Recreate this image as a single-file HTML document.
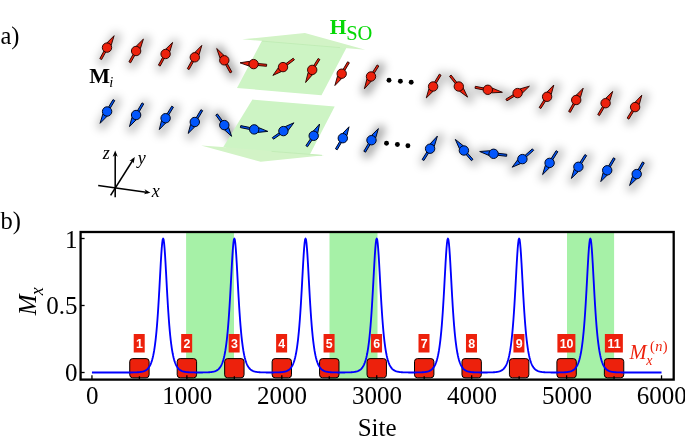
<!DOCTYPE html>
<html><head><meta charset="utf-8"><title>figure</title>
<style>html,body{margin:0;padding:0;background:#fff;}body{width:685px;height:437px;position:relative;overflow:hidden;font-family:"Liberation Serif",serif;}</style>
</head><body>
<svg width="685" height="437" viewBox="0 0 685 437" style="position:absolute;left:0;top:0;opacity:0.999">
<defs><filter id="sh" x="-50%" y="-50%" width="200%" height="200%"><feGaussianBlur stdDeviation="4"/></filter></defs>
<rect width="685" height="437" fill="#fff"/>
<g filter="url(#sh)" stroke="#000" stroke-opacity="0.23" stroke-width="10" stroke-linecap="round" transform="translate(2,1.5)">
<line x1="100.7" y1="59.1" x2="114.1" y2="35.7"/>
<line x1="129.8" y1="62.3" x2="143.4" y2="39.1"/>
<line x1="159.3" y1="65.6" x2="172.6" y2="42.4"/>
<line x1="188.2" y1="69.1" x2="201.8" y2="45.4"/>
<line x1="231" y1="72.4" x2="216.7" y2="48.5"/>
<line x1="231" y1="72.4" x2="216.7" y2="48.5" stroke-opacity="0.15"/>
<line x1="378" y1="65.5" x2="364.4" y2="88.8"/>
<line x1="378" y1="65.5" x2="364.4" y2="88.8" stroke-opacity="0.15"/>
<line x1="440.2" y1="74.7" x2="426.3" y2="97.9"/>
<line x1="450.3" y1="75.7" x2="467.6" y2="97.1"/>
<line x1="475.2" y1="87.3" x2="502.4" y2="92.3"/>
<line x1="506.4" y1="100" x2="529.4" y2="86.2"/>
<line x1="540" y1="108" x2="553.8" y2="85"/>
<line x1="569.5" y1="111.9" x2="583.2" y2="88.2"/>
<line x1="598.6" y1="115.1" x2="612.7" y2="91.4"/>
<line x1="628" y1="118.6" x2="641.8" y2="95.2"/>
<line x1="113.9" y1="100.1" x2="100.1" y2="123.3"/>
<line x1="142.9" y1="103.4" x2="129.5" y2="126.6"/>
<line x1="172.6" y1="106.7" x2="159.3" y2="129.6"/>
<line x1="201.8" y1="110.2" x2="188.2" y2="133.4"/>
<line x1="216.6" y1="114.5" x2="231.6" y2="136.3"/>
<line x1="216.6" y1="114.5" x2="231.6" y2="136.3" stroke-opacity="0.15"/>
<line x1="364.7" y1="151.7" x2="378.4" y2="128.6"/>
<line x1="364.7" y1="151.7" x2="378.4" y2="128.6" stroke-opacity="0.15"/>
<line x1="423" y1="160" x2="437.4" y2="136.1"/>
<line x1="472.2" y1="160" x2="455.3" y2="139.4"/>
<line x1="506.7" y1="155.3" x2="479.7" y2="151.5"/>
<line x1="533" y1="149.6" x2="512.2" y2="167.2"/>
<line x1="557" y1="151.2" x2="542.6" y2="174.6"/>
<line x1="585.8" y1="155.1" x2="571.4" y2="178.4"/>
<line x1="614.3" y1="158.3" x2="600.8" y2="181.6"/>
<line x1="643.4" y1="162.4" x2="629.6" y2="185.5"/>
</g>
<polygon points="262.6,39.5 346.6,47.5 321.5,95.3 237,87.9" fill="#cdf4c4"/>
<polygon points="242.1,39.3 304.9,33.1 365.3,49.7" fill="#d2f3c6"/>
<line x1="262" y1="41.1" x2="340" y2="47.6" stroke="#bceab0" stroke-width="0.7"/>
<polygon points="201.1,145.4 225.7,147.2 232,140 306,149 310,154.2 324.2,155.3 260.7,161.8" fill="#d2f3c6"/>
<polygon points="252.4,99.6 334.7,106.6 310,154.3 223.3,146.9" fill="#cdf4c4"/>
<line x1="271.6" y1="151.4" x2="322" y2="155.3" stroke="#bceab0" stroke-width="0.7"/>
<g fill="#ed210c" stroke="#2a0300" stroke-width="0.95" stroke-linejoin="round">
<polygon points="101.58,59.58 107.88,48.08 106.12,47.12 99.82,58.62"/><polygon points="111.21,45.22 114.1,35.7 107.09,42.76"/><circle cx="107" cy="47.6" r="4.7"/>
<polygon points="130.67,62.79 136.97,51.49 135.23,50.51 128.93,61.81"/><polygon points="140.34,48.67 143.4,39.1 136.25,46.16"/><circle cx="136.1" cy="51" r="4.7"/>
<polygon points="160.18,66.08 166.48,54.48 164.72,53.52 158.42,65.12"/><polygon points="169.82,51.64 172.6,42.4 165.72,49.16"/><circle cx="165.6" cy="54" r="4.7"/>
<polygon points="189.07,69.59 195.67,57.79 193.93,56.81 187.33,68.61"/><polygon points="199,54.9 201.8,45.4 194.86,52.46"/><circle cx="194.8" cy="57.3" r="4.7"/>
<polygon points="231.87,71.92 225.17,59.82 223.43,60.78 230.13,72.88"/><polygon points="224.04,55.47 216.7,48.5 220.01,58.07"/><circle cx="224.3" cy="60.3" r="4.7"/>
<polygon points="266.69,64.3 253.69,63.1 253.51,65.1 266.51,66.3"/><polygon points="249.65,61.31 240,62.8 249.19,66.09"/><circle cx="253.6" cy="64.1" r="4.7"/>
<polygon points="293.2,58.2 282.4,66.3 283.6,67.9 294.4,59.8"/><polygon points="278.23,67.91 272.9,75.4 281.28,71.62"/><circle cx="283" cy="67.1" r="4.7"/>
<polygon points="318.15,58.47 311.35,69.37 313.05,70.43 319.85,59.53"/><polygon points="308.13,72.51 305.6,82.5 312.38,74.73"/><circle cx="312.2" cy="69.9" r="4.7"/>
<polygon points="347.64,61.79 340.84,73.19 342.56,74.21 349.36,62.81"/><polygon points="337.52,76.14 334.9,85.5 341.68,78.54"/><circle cx="341.7" cy="73.7" r="4.7"/>
<polygon points="377.16,64.96 370.16,75.96 371.84,77.04 378.84,66.04"/><polygon points="366.9,79.07 364.4,88.8 371.13,81.34"/><circle cx="371" cy="76.5" r="4.7"/>
<polygon points="439.34,74.18 432.24,85.98 433.96,87.02 441.06,75.22"/><polygon points="428.89,88.88 426.3,97.9 433.01,91.34"/><circle cx="433.1" cy="86.5" r="4.7"/>
<polygon points="449.51,76.32 458.01,87.12 459.59,85.88 451.09,75.08"/><polygon points="459.64,91.26 467.6,97.1 463.33,88.2"/><circle cx="458.8" cy="86.5" r="4.7"/>
<polygon points="475.01,88.28 487.61,90.78 487.99,88.82 475.39,86.32"/><polygon points="491.53,92.87 502.4,92.3 492.34,88.14"/><circle cx="487.8" cy="89.8" r="4.7"/>
<polygon points="506.92,100.85 518.12,93.95 517.08,92.25 505.88,99.15"/><polygon points="522.44,93.05 529.4,86.2 520.01,88.91"/><circle cx="517.6" cy="93.1" r="4.7"/>
<polygon points="540.84,108.54 547.94,97.34 546.26,96.26 539.16,107.46"/><polygon points="551.26,94.33 553.8,85 547.09,91.96"/><circle cx="547.1" cy="96.8" r="4.7"/>
<polygon points="570.37,112.39 577.07,100.49 575.33,99.51 568.63,111.41"/><polygon points="580.41,97.61 583.2,88.2 576.28,95.16"/><circle cx="576.2" cy="100" r="4.7"/>
<polygon points="599.46,115.61 606.46,103.71 604.74,102.69 597.74,114.59"/><polygon points="609.82,100.84 612.7,91.4 605.71,98.36"/><circle cx="605.6" cy="103.2" r="4.7"/>
<polygon points="628.85,119.13 635.95,107.63 634.25,106.57 627.15,118.07"/><polygon points="639.25,104.62 641.8,95.2 635.07,102.26"/><circle cx="635.1" cy="107.1" r="4.7"/>
</g>
<g fill="#0256fc" stroke="#000820" stroke-width="1" stroke-linejoin="round">
<polygon points="113.04,99.59 106.24,110.99 107.96,112.01 114.76,100.61"/><polygon points="102.89,113.89 100.1,123.3 107.02,116.34"/><circle cx="107.1" cy="111.5" r="4.7"/>
<polygon points="142.04,102.89 135.24,114.49 136.96,115.51 143.76,103.91"/><polygon points="131.94,117.46 129.5,126.6 136.11,119.84"/><circle cx="136.1" cy="115" r="4.7"/>
<polygon points="171.75,106.18 164.75,117.68 166.45,118.72 173.45,107.22"/><polygon points="161.47,120.72 159.3,129.6 165.67,123.04"/><circle cx="165.6" cy="118.2" r="4.7"/>
<polygon points="200.94,109.69 193.94,121.49 195.66,122.51 202.66,110.71"/><polygon points="190.62,124.43 188.2,133.4 194.77,126.84"/><circle cx="194.8" cy="122" r="4.7"/>
<polygon points="215.79,115.09 223.49,125.69 225.11,124.51 217.41,113.91"/><polygon points="224.58,129.93 231.6,136.3 228.6,127.31"/><circle cx="224.3" cy="125.1" r="4.7"/>
<polygon points="240.4,127.58 254,130.38 254.4,128.42 240.8,125.62"/><polygon points="258.01,132.39 267.8,131.4 258.7,127.64"/><circle cx="254.2" cy="129.4" r="4.7"/>
<polygon points="273.47,139.22 283.97,131.92 282.83,130.28 272.33,137.58"/><polygon points="288.18,130.38 293.9,122.8 285.21,126.61"/><circle cx="283.4" cy="131.1" r="4.7"/>
<polygon points="307.53,146.76 314.53,136.36 312.87,135.24 305.87,145.64"/><polygon points="317.72,133.12 319.6,124 313.43,130.97"/><circle cx="313.7" cy="135.8" r="4.7"/>
<polygon points="337.16,149.81 343.66,138.71 341.94,137.69 335.44,148.79"/><polygon points="346.92,135.66 349,126.8 342.7,133.36"/><circle cx="342.8" cy="138.2" r="4.7"/>
<polygon points="365.56,152.21 372.36,140.71 370.64,139.69 363.84,151.19"/><polygon points="375.71,137.82 378.4,128.6 371.58,135.36"/><circle cx="371.5" cy="140.2" r="4.7"/>
<polygon points="423.85,160.53 430.95,149.23 429.25,148.17 422.15,159.47"/><polygon points="434.28,146.27 437.4,136.1 430.13,143.86"/><circle cx="430.1" cy="148.7" r="4.7"/>
<polygon points="472.95,159.34 464.65,149.84 463.15,151.16 471.45,160.66"/><polygon points="463.22,145.71 455.3,139.4 459.43,148.65"/><circle cx="463.9" cy="150.5" r="4.7"/>
<polygon points="506.81,154.31 493.71,152.81 493.49,154.79 506.59,156.29"/><polygon points="489.85,150.75 479.7,151.5 489.06,155.48"/><circle cx="493.6" cy="153.8" r="4.7"/>
<polygon points="532.33,148.86 521.73,158.36 523.07,159.84 533.67,150.34"/><polygon points="517.62,159.83 512.2,167.2 520.6,163.59"/><circle cx="522.4" cy="159.1" r="4.7"/>
<polygon points="556.15,150.67 548.75,162.37 550.45,163.43 557.85,151.73"/><polygon points="545.38,165.27 542.6,174.6 549.5,167.74"/><circle cx="549.6" cy="162.9" r="4.7"/>
<polygon points="584.95,154.57 577.55,166.27 579.25,167.33 586.65,155.63"/><polygon points="574.18,169.16 571.4,178.4 578.28,171.64"/><circle cx="578.4" cy="166.8" r="4.7"/>
<polygon points="613.44,157.79 606.34,169.79 608.06,170.81 615.16,158.81"/><polygon points="603.04,172.77 600.8,181.6 607.22,175.14"/><circle cx="607.2" cy="170.3" r="4.7"/>
<polygon points="642.53,161.9 635.83,173.6 637.57,174.6 644.27,162.9"/><polygon points="632.44,176.4 629.6,185.5 636.52,178.93"/><circle cx="636.7" cy="174.1" r="4.7"/>
</g>
<circle cx="389" cy="80.2" r="2.45" fill="#000"/>
<circle cx="400.4" cy="81.2" r="2.45" fill="#000"/>
<circle cx="411.2" cy="82.2" r="2.45" fill="#000"/>
<circle cx="386.5" cy="143.2" r="2.45" fill="#000"/>
<circle cx="397.4" cy="144.5" r="2.45" fill="#000"/>
<circle cx="407.9" cy="145.7" r="2.45" fill="#000"/>
<g stroke="#000" stroke-width="1.55" fill="none">
<line x1="115.2" y1="197.3" x2="115.2" y2="153"/>
<line x1="110.6" y1="195.4" x2="133.6" y2="159"/>
<line x1="98.2" y1="185.4" x2="148" y2="192.4"/>
</g>
<polygon points="115.2,150.6 117.7,156.8 115.2,155.06 112.7,156.8" fill="#000"/>
<polygon points="134.8,157 133.61,163.58 132.42,160.78 129.38,160.91" fill="#000"/>
<polygon points="150.4,192.7 143.91,194.32 145.98,192.08 144.61,189.37" fill="#000"/>
<rect x="186.1" y="232" width="47.9" height="147.5" fill="#a6f1a7"/>
<rect x="329.5" y="232" width="48" height="147.5" fill="#a6f1a7"/>
<rect x="567" y="232" width="47.1" height="147.5" fill="#a6f1a7"/>
<rect x="129.72" y="358.6" width="19.4" height="19.2" rx="3" ry="3" fill="#ed210c" stroke="#000" stroke-width="1"/>
<rect x="177.18" y="358.6" width="19.4" height="19.2" rx="3" ry="3" fill="#ed210c" stroke="#000" stroke-width="1"/>
<rect x="224.65" y="358.6" width="19.4" height="19.2" rx="3" ry="3" fill="#ed210c" stroke="#000" stroke-width="1"/>
<rect x="272.11" y="358.6" width="19.4" height="19.2" rx="3" ry="3" fill="#ed210c" stroke="#000" stroke-width="1"/>
<rect x="319.57" y="358.6" width="19.4" height="19.2" rx="3" ry="3" fill="#ed210c" stroke="#000" stroke-width="1"/>
<rect x="367.04" y="358.6" width="19.4" height="19.2" rx="3" ry="3" fill="#ed210c" stroke="#000" stroke-width="1"/>
<rect x="414.5" y="358.6" width="19.4" height="19.2" rx="3" ry="3" fill="#ed210c" stroke="#000" stroke-width="1"/>
<rect x="461.97" y="358.6" width="19.4" height="19.2" rx="3" ry="3" fill="#ed210c" stroke="#000" stroke-width="1"/>
<rect x="509.44" y="358.6" width="19.4" height="19.2" rx="3" ry="3" fill="#ed210c" stroke="#000" stroke-width="1"/>
<rect x="556.9" y="358.6" width="19.4" height="19.2" rx="3" ry="3" fill="#ed210c" stroke="#000" stroke-width="1"/>
<rect x="604.37" y="358.6" width="19.4" height="19.2" rx="3" ry="3" fill="#ed210c" stroke="#000" stroke-width="1"/>
<path d="M91.95 372.5 L92.42 372.5 L92.9 372.5 L93.37 372.5 L93.85 372.5 L94.32 372.5 L94.8 372.5 L95.27 372.5 L95.75 372.5 L96.22 372.5 L96.7 372.5 L97.17 372.5 L97.65 372.5 L98.12 372.5 L98.6 372.5 L99.07 372.5 L99.54 372.5 L100.02 372.5 L100.49 372.5 L100.97 372.5 L101.44 372.5 L101.92 372.5 L102.39 372.5 L102.87 372.5 L103.34 372.5 L103.82 372.5 L104.29 372.5 L104.77 372.5 L105.24 372.5 L105.71 372.5 L106.19 372.5 L106.66 372.5 L107.14 372.5 L107.61 372.5 L108.09 372.5 L108.56 372.5 L109.04 372.5 L109.51 372.5 L109.99 372.5 L110.46 372.5 L110.94 372.5 L111.41 372.5 L111.89 372.5 L112.36 372.5 L112.83 372.5 L113.31 372.5 L113.78 372.5 L114.26 372.5 L114.73 372.5 L115.21 372.5 L115.68 372.5 L116.16 372.5 L116.63 372.5 L117.11 372.5 L117.58 372.5 L118.06 372.5 L118.53 372.5 L119.01 372.5 L119.48 372.5 L119.95 372.5 L120.43 372.5 L120.9 372.5 L121.38 372.5 L121.85 372.5 L122.33 372.5 L122.8 372.5 L123.28 372.5 L123.75 372.5 L124.23 372.49 L124.7 372.49 L125.18 372.49 L125.65 372.49 L126.12 372.49 L126.6 372.49 L127.07 372.49 L127.55 372.49 L128.02 372.48 L128.5 372.48 L128.97 372.48 L129.45 372.48 L129.92 372.47 L130.4 372.47 L130.87 372.47 L131.35 372.46 L131.82 372.45 L132.3 372.45 L132.77 372.44 L133.24 372.43 L133.72 372.42 L134.19 372.41 L134.67 372.4 L135.14 372.39 L135.62 372.37 L136.09 372.35 L136.57 372.33 L137.04 372.31 L137.52 372.28 L137.99 372.25 L138.47 372.21 L138.94 372.17 L139.42 372.13 L139.89 372.08 L140.36 372.02 L140.84 371.95 L141.31 371.87 L141.79 371.78 L142.26 371.68 L142.74 371.56 L143.21 371.43 L143.69 371.28 L144.16 371.11 L144.64 370.92 L145.11 370.69 L145.59 370.44 L146.06 370.15 L146.53 369.82 L147.01 369.44 L147.48 369.01 L147.96 368.52 L148.43 367.97 L148.91 367.33 L149.38 366.6 L149.86 365.77 L150.33 364.83 L150.81 363.75 L151.28 362.52 L151.76 361.13 L152.23 359.53 L152.71 357.72 L153.18 355.66 L153.65 353.31 L154.13 350.65 L154.6 347.63 L155.08 344.2 L155.55 340.33 L156.03 335.97 L156.5 331.07 L156.98 325.59 L157.45 319.49 L157.93 312.77 L158.4 305.43 L158.88 297.52 L159.35 289.12 L159.82 280.4 L160.3 271.61 L160.77 263.05 L161.25 255.13 L161.72 248.3 L162.2 243.01 L162.67 239.65 L163.15 238.5 L163.62 239.65 L164.1 243.01 L164.57 248.3 L165.05 255.13 L165.52 263.05 L166 271.61 L166.47 280.4 L166.94 289.12 L167.42 297.52 L167.89 305.43 L168.37 312.77 L168.84 319.49 L169.32 325.59 L169.79 331.07 L170.27 335.97 L170.74 340.33 L171.22 344.2 L171.69 347.63 L172.17 350.65 L172.64 353.31 L173.12 355.66 L173.59 357.72 L174.06 359.53 L174.54 361.13 L175.01 362.52 L175.49 363.75 L175.96 364.83 L176.44 365.77 L176.91 366.6 L177.39 367.33 L177.86 367.97 L178.34 368.52 L178.81 369.01 L179.29 369.44 L179.76 369.82 L180.23 370.15 L180.71 370.44 L181.18 370.69 L181.66 370.92 L182.13 371.11 L182.61 371.28 L183.08 371.43 L183.56 371.56 L184.03 371.68 L184.51 371.78 L184.98 371.87 L185.46 371.95 L185.93 372.02 L186.41 372.07 L186.88 372.13 L187.35 372.17 L187.83 372.21 L188.3 372.25 L188.78 372.28 L189.25 372.31 L189.73 372.33 L190.2 372.35 L190.68 372.37 L191.15 372.38 L191.63 372.4 L192.1 372.41 L192.58 372.42 L193.05 372.43 L193.53 372.44 L194 372.44 L194.47 372.45 L194.95 372.46 L195.42 372.46 L195.9 372.46 L196.37 372.47 L196.85 372.47 L197.32 372.47 L197.8 372.47 L198.27 372.47 L198.75 372.47 L199.22 372.47 L199.7 372.47 L200.17 372.47 L200.64 372.47 L201.12 372.47 L201.59 372.46 L202.07 372.46 L202.54 372.46 L203.02 372.45 L203.49 372.44 L203.97 372.44 L204.44 372.43 L204.92 372.42 L205.39 372.41 L205.87 372.4 L206.34 372.38 L206.82 372.37 L207.29 372.35 L207.76 372.33 L208.24 372.31 L208.71 372.28 L209.19 372.25 L209.66 372.21 L210.14 372.17 L210.61 372.13 L211.09 372.07 L211.56 372.02 L212.04 371.95 L212.51 371.87 L212.99 371.78 L213.46 371.68 L213.94 371.56 L214.41 371.43 L214.88 371.28 L215.36 371.11 L215.83 370.92 L216.31 370.69 L216.78 370.44 L217.26 370.15 L217.73 369.82 L218.21 369.44 L218.68 369.01 L219.16 368.52 L219.63 367.97 L220.11 367.33 L220.58 366.6 L221.05 365.77 L221.53 364.83 L222 363.75 L222.48 362.52 L222.95 361.13 L223.43 359.53 L223.9 357.72 L224.38 355.66 L224.85 353.31 L225.33 350.65 L225.8 347.63 L226.28 344.2 L226.75 340.33 L227.23 335.97 L227.7 331.07 L228.17 325.59 L228.65 319.49 L229.12 312.77 L229.6 305.43 L230.07 297.52 L230.55 289.12 L231.02 280.4 L231.5 271.61 L231.97 263.05 L232.45 255.13 L232.92 248.3 L233.4 243.01 L233.87 239.65 L234.35 238.5 L234.82 239.65 L235.29 243.01 L235.77 248.3 L236.24 255.13 L236.72 263.05 L237.19 271.61 L237.67 280.4 L238.14 289.12 L238.62 297.52 L239.09 305.43 L239.57 312.77 L240.04 319.49 L240.52 325.59 L240.99 331.07 L241.46 335.97 L241.94 340.33 L242.41 344.2 L242.89 347.63 L243.36 350.65 L243.84 353.31 L244.31 355.66 L244.79 357.72 L245.26 359.53 L245.74 361.13 L246.21 362.52 L246.69 363.75 L247.16 364.83 L247.64 365.77 L248.11 366.6 L248.58 367.33 L249.06 367.97 L249.53 368.52 L250.01 369.01 L250.48 369.44 L250.96 369.82 L251.43 370.15 L251.91 370.44 L252.38 370.69 L252.86 370.92 L253.33 371.11 L253.81 371.28 L254.28 371.43 L254.75 371.56 L255.23 371.68 L255.7 371.78 L256.18 371.87 L256.65 371.95 L257.13 372.02 L257.6 372.07 L258.08 372.13 L258.55 372.17 L259.03 372.21 L259.5 372.25 L259.98 372.28 L260.45 372.31 L260.93 372.33 L261.4 372.35 L261.87 372.37 L262.35 372.38 L262.82 372.4 L263.3 372.41 L263.77 372.42 L264.25 372.43 L264.72 372.44 L265.2 372.44 L265.67 372.45 L266.15 372.46 L266.62 372.46 L267.1 372.46 L267.57 372.47 L268.05 372.47 L268.52 372.47 L268.99 372.47 L269.47 372.47 L269.94 372.47 L270.42 372.47 L270.89 372.47 L271.37 372.47 L271.84 372.47 L272.32 372.47 L272.79 372.46 L273.27 372.46 L273.74 372.46 L274.22 372.45 L274.69 372.44 L275.16 372.44 L275.64 372.43 L276.11 372.42 L276.59 372.41 L277.06 372.4 L277.54 372.38 L278.01 372.37 L278.49 372.35 L278.96 372.33 L279.44 372.31 L279.91 372.28 L280.39 372.25 L280.86 372.21 L281.34 372.17 L281.81 372.13 L282.28 372.07 L282.76 372.02 L283.23 371.95 L283.71 371.87 L284.18 371.78 L284.66 371.68 L285.13 371.56 L285.61 371.43 L286.08 371.28 L286.56 371.11 L287.03 370.92 L287.51 370.69 L287.98 370.44 L288.46 370.15 L288.93 369.82 L289.4 369.44 L289.88 369.01 L290.35 368.52 L290.83 367.97 L291.3 367.33 L291.78 366.6 L292.25 365.77 L292.73 364.83 L293.2 363.75 L293.68 362.52 L294.15 361.13 L294.63 359.53 L295.1 357.72 L295.57 355.66 L296.05 353.31 L296.52 350.65 L297 347.63 L297.47 344.2 L297.95 340.33 L298.42 335.97 L298.9 331.07 L299.37 325.59 L299.85 319.49 L300.32 312.77 L300.8 305.43 L301.27 297.52 L301.75 289.12 L302.22 280.4 L302.69 271.61 L303.17 263.05 L303.64 255.13 L304.12 248.3 L304.59 243.01 L305.07 239.65 L305.54 238.5 L306.02 239.65 L306.49 243.01 L306.97 248.3 L307.44 255.13 L307.92 263.05 L308.39 271.61 L308.87 280.4 L309.34 289.12 L309.81 297.52 L310.29 305.43 L310.76 312.77 L311.24 319.49 L311.71 325.59 L312.19 331.07 L312.66 335.97 L313.14 340.33 L313.61 344.2 L314.09 347.63 L314.56 350.65 L315.04 353.31 L315.51 355.66 L315.98 357.72 L316.46 359.53 L316.93 361.13 L317.41 362.52 L317.88 363.75 L318.36 364.83 L318.83 365.77 L319.31 366.6 L319.78 367.33 L320.26 367.97 L320.73 368.52 L321.21 369.01 L321.68 369.44 L322.16 369.82 L322.63 370.15 L323.1 370.44 L323.58 370.69 L324.05 370.92 L324.53 371.11 L325 371.28 L325.48 371.43 L325.95 371.56 L326.43 371.68 L326.9 371.78 L327.38 371.87 L327.85 371.95 L328.33 372.02 L328.8 372.07 L329.27 372.13 L329.75 372.17 L330.22 372.21 L330.7 372.25 L331.17 372.28 L331.65 372.31 L332.12 372.33 L332.6 372.35 L333.07 372.37 L333.55 372.38 L334.02 372.4 L334.5 372.41 L334.97 372.42 L335.45 372.43 L335.92 372.44 L336.39 372.44 L336.87 372.45 L337.34 372.46 L337.82 372.46 L338.29 372.46 L338.77 372.47 L339.24 372.47 L339.72 372.47 L340.19 372.47 L340.67 372.47 L341.14 372.47 L341.62 372.47 L342.09 372.47 L342.57 372.47 L343.04 372.47 L343.51 372.47 L343.99 372.46 L344.46 372.46 L344.94 372.46 L345.41 372.45 L345.89 372.44 L346.36 372.44 L346.84 372.43 L347.31 372.42 L347.79 372.41 L348.26 372.4 L348.74 372.38 L349.21 372.37 L349.68 372.35 L350.16 372.33 L350.63 372.31 L351.11 372.28 L351.58 372.25 L352.06 372.21 L352.53 372.17 L353.01 372.13 L353.48 372.07 L353.96 372.02 L354.43 371.95 L354.91 371.87 L355.38 371.78 L355.86 371.68 L356.33 371.56 L356.8 371.43 L357.28 371.28 L357.75 371.11 L358.23 370.92 L358.7 370.69 L359.18 370.44 L359.65 370.15 L360.13 369.82 L360.6 369.44 L361.08 369.01 L361.55 368.52 L362.03 367.97 L362.5 367.33 L362.98 366.6 L363.45 365.77 L363.92 364.83 L364.4 363.75 L364.87 362.52 L365.35 361.13 L365.82 359.53 L366.3 357.72 L366.77 355.66 L367.25 353.31 L367.72 350.65 L368.2 347.63 L368.67 344.2 L369.15 340.33 L369.62 335.97 L370.09 331.07 L370.57 325.59 L371.04 319.49 L371.52 312.77 L371.99 305.43 L372.47 297.52 L372.94 289.12 L373.42 280.4 L373.89 271.61 L374.37 263.05 L374.84 255.13 L375.32 248.3 L375.79 243.01 L376.27 239.65 L376.74 238.5 L377.21 239.65 L377.69 243.01 L378.16 248.3 L378.64 255.13 L379.11 263.05 L379.59 271.61 L380.06 280.4 L380.54 289.12 L381.01 297.52 L381.49 305.43 L381.96 312.77 L382.44 319.49 L382.91 325.59 L383.39 331.07 L383.86 335.97 L384.33 340.33 L384.81 344.2 L385.28 347.63 L385.76 350.65 L386.23 353.31 L386.71 355.66 L387.18 357.72 L387.66 359.53 L388.13 361.13 L388.61 362.52 L389.08 363.75 L389.56 364.83 L390.03 365.77 L390.5 366.6 L390.98 367.33 L391.45 367.97 L391.93 368.52 L392.4 369.01 L392.88 369.44 L393.35 369.82 L393.83 370.15 L394.3 370.44 L394.78 370.69 L395.25 370.92 L395.73 371.11 L396.2 371.28 L396.68 371.43 L397.15 371.56 L397.62 371.68 L398.1 371.78 L398.57 371.87 L399.05 371.95 L399.52 372.02 L400 372.07 L400.47 372.13 L400.95 372.17 L401.42 372.21 L401.9 372.25 L402.37 372.28 L402.85 372.31 L403.32 372.33 L403.8 372.35 L404.27 372.37 L404.74 372.38 L405.22 372.4 L405.69 372.41 L406.17 372.42 L406.64 372.43 L407.12 372.44 L407.59 372.44 L408.07 372.45 L408.54 372.46 L409.02 372.46 L409.49 372.46 L409.97 372.47 L410.44 372.47 L410.91 372.47 L411.39 372.47 L411.86 372.47 L412.34 372.47 L412.81 372.47 L413.29 372.47 L413.76 372.47 L414.24 372.47 L414.71 372.47 L415.19 372.46 L415.66 372.46 L416.14 372.46 L416.61 372.45 L417.09 372.44 L417.56 372.44 L418.03 372.43 L418.51 372.42 L418.98 372.41 L419.46 372.4 L419.93 372.38 L420.41 372.37 L420.88 372.35 L421.36 372.33 L421.83 372.31 L422.31 372.28 L422.78 372.25 L423.26 372.21 L423.73 372.17 L424.2 372.13 L424.68 372.07 L425.15 372.02 L425.63 371.95 L426.1 371.87 L426.58 371.78 L427.05 371.68 L427.53 371.56 L428 371.43 L428.48 371.28 L428.95 371.11 L429.43 370.92 L429.9 370.69 L430.38 370.44 L430.85 370.15 L431.32 369.82 L431.8 369.44 L432.27 369.01 L432.75 368.52 L433.22 367.97 L433.7 367.33 L434.17 366.6 L434.65 365.77 L435.12 364.83 L435.6 363.75 L436.07 362.52 L436.55 361.13 L437.02 359.53 L437.5 357.72 L437.97 355.66 L438.44 353.31 L438.92 350.65 L439.39 347.63 L439.87 344.2 L440.34 340.33 L440.82 335.97 L441.29 331.07 L441.77 325.59 L442.24 319.49 L442.72 312.77 L443.19 305.43 L443.67 297.52 L444.14 289.12 L444.61 280.4 L445.09 271.61 L445.56 263.05 L446.04 255.13 L446.51 248.3 L446.99 243.01 L447.46 239.65 L447.94 238.5 L448.41 239.65 L448.89 243.01 L449.36 248.3 L449.84 255.13 L450.31 263.05 L450.79 271.61 L451.26 280.4 L451.73 289.12 L452.21 297.52 L452.68 305.43 L453.16 312.77 L453.63 319.49 L454.11 325.59 L454.58 331.07 L455.06 335.97 L455.53 340.33 L456.01 344.2 L456.48 347.63 L456.96 350.65 L457.43 353.31 L457.91 355.66 L458.38 357.72 L458.85 359.53 L459.33 361.13 L459.8 362.52 L460.28 363.75 L460.75 364.83 L461.23 365.77 L461.7 366.6 L462.18 367.33 L462.65 367.97 L463.13 368.52 L463.6 369.01 L464.08 369.44 L464.55 369.82 L465.02 370.15 L465.5 370.44 L465.97 370.69 L466.45 370.92 L466.92 371.11 L467.4 371.28 L467.87 371.43 L468.35 371.56 L468.82 371.68 L469.3 371.78 L469.77 371.87 L470.25 371.95 L470.72 372.02 L471.2 372.07 L471.67 372.13 L472.14 372.17 L472.62 372.21 L473.09 372.25 L473.57 372.28 L474.04 372.31 L474.52 372.33 L474.99 372.35 L475.47 372.37 L475.94 372.38 L476.42 372.4 L476.89 372.41 L477.37 372.42 L477.84 372.43 L478.32 372.44 L478.79 372.44 L479.26 372.45 L479.74 372.46 L480.21 372.46 L480.69 372.46 L481.16 372.47 L481.64 372.47 L482.11 372.47 L482.59 372.47 L483.06 372.47 L483.54 372.47 L484.01 372.47 L484.49 372.47 L484.96 372.47 L485.43 372.47 L485.91 372.47 L486.38 372.46 L486.86 372.46 L487.33 372.46 L487.81 372.45 L488.28 372.44 L488.76 372.44 L489.23 372.43 L489.71 372.42 L490.18 372.41 L490.66 372.4 L491.13 372.38 L491.61 372.37 L492.08 372.35 L492.55 372.33 L493.03 372.31 L493.5 372.28 L493.98 372.25 L494.45 372.21 L494.93 372.17 L495.4 372.13 L495.88 372.07 L496.35 372.02 L496.83 371.95 L497.3 371.87 L497.78 371.78 L498.25 371.68 L498.73 371.56 L499.2 371.43 L499.67 371.28 L500.15 371.11 L500.62 370.92 L501.1 370.69 L501.57 370.44 L502.05 370.15 L502.52 369.82 L503 369.44 L503.47 369.01 L503.95 368.52 L504.42 367.97 L504.9 367.33 L505.37 366.6 L505.84 365.77 L506.32 364.83 L506.79 363.75 L507.27 362.52 L507.74 361.13 L508.22 359.53 L508.69 357.72 L509.17 355.66 L509.64 353.31 L510.12 350.65 L510.59 347.63 L511.07 344.2 L511.54 340.33 L512.02 335.97 L512.49 331.07 L512.96 325.59 L513.44 319.49 L513.91 312.77 L514.39 305.43 L514.86 297.52 L515.34 289.12 L515.81 280.4 L516.29 271.61 L516.76 263.05 L517.24 255.13 L517.71 248.3 L518.19 243.01 L518.66 239.65 L519.13 238.5 L519.61 239.65 L520.08 243.01 L520.56 248.3 L521.03 255.13 L521.51 263.05 L521.98 271.61 L522.46 280.4 L522.93 289.12 L523.41 297.52 L523.88 305.43 L524.36 312.77 L524.83 319.49 L525.31 325.59 L525.78 331.07 L526.25 335.97 L526.73 340.33 L527.2 344.2 L527.68 347.63 L528.15 350.65 L528.63 353.31 L529.1 355.66 L529.58 357.72 L530.05 359.53 L530.53 361.13 L531 362.52 L531.48 363.75 L531.95 364.83 L532.43 365.77 L532.9 366.6 L533.37 367.33 L533.85 367.97 L534.32 368.52 L534.8 369.01 L535.27 369.44 L535.75 369.82 L536.22 370.15 L536.7 370.44 L537.17 370.69 L537.65 370.92 L538.12 371.11 L538.6 371.28 L539.07 371.43 L539.54 371.56 L540.02 371.68 L540.49 371.78 L540.97 371.87 L541.44 371.95 L541.92 372.02 L542.39 372.07 L542.87 372.13 L543.34 372.17 L543.82 372.21 L544.29 372.25 L544.77 372.28 L545.24 372.31 L545.72 372.33 L546.19 372.35 L546.66 372.37 L547.14 372.38 L547.61 372.4 L548.09 372.41 L548.56 372.42 L549.04 372.43 L549.51 372.44 L549.99 372.44 L550.46 372.45 L550.94 372.46 L551.41 372.46 L551.89 372.46 L552.36 372.47 L552.84 372.47 L553.31 372.47 L553.78 372.47 L554.26 372.47 L554.73 372.47 L555.21 372.47 L555.68 372.47 L556.16 372.47 L556.63 372.47 L557.11 372.47 L557.58 372.46 L558.06 372.46 L558.53 372.46 L559.01 372.45 L559.48 372.44 L559.95 372.44 L560.43 372.43 L560.9 372.42 L561.38 372.41 L561.85 372.4 L562.33 372.38 L562.8 372.37 L563.28 372.35 L563.75 372.33 L564.23 372.31 L564.7 372.28 L565.18 372.25 L565.65 372.21 L566.13 372.17 L566.6 372.13 L567.07 372.07 L567.55 372.02 L568.02 371.95 L568.5 371.87 L568.97 371.78 L569.45 371.68 L569.92 371.56 L570.4 371.43 L570.87 371.28 L571.35 371.11 L571.82 370.92 L572.3 370.69 L572.77 370.44 L573.25 370.15 L573.72 369.82 L574.19 369.44 L574.67 369.01 L575.14 368.52 L575.62 367.97 L576.09 367.33 L576.57 366.6 L577.04 365.77 L577.52 364.83 L577.99 363.75 L578.47 362.52 L578.94 361.13 L579.42 359.53 L579.89 357.72 L580.36 355.66 L580.84 353.31 L581.31 350.65 L581.79 347.63 L582.26 344.2 L582.74 340.33 L583.21 335.97 L583.69 331.07 L584.16 325.59 L584.64 319.49 L585.11 312.77 L585.59 305.43 L586.06 297.52 L586.54 289.12 L587.01 280.4 L587.48 271.61 L587.96 263.05 L588.43 255.13 L588.91 248.3 L589.38 243.01 L589.86 239.65 L590.33 238.5 L590.81 239.65 L591.28 243.01 L591.76 248.3 L592.23 255.13 L592.71 263.05 L593.18 271.61 L593.66 280.4 L594.13 289.12 L594.6 297.52 L595.08 305.43 L595.55 312.77 L596.03 319.49 L596.5 325.59 L596.98 331.07 L597.45 335.97 L597.93 340.33 L598.4 344.2 L598.88 347.63 L599.35 350.65 L599.83 353.31 L600.3 355.66 L600.77 357.72 L601.25 359.53 L601.72 361.13 L602.2 362.52 L602.67 363.75 L603.15 364.83 L603.62 365.77 L604.1 366.6 L604.57 367.33 L605.05 367.97 L605.52 368.52 L606 369.01 L606.47 369.44 L606.95 369.82 L607.42 370.15 L607.89 370.44 L608.37 370.69 L608.84 370.92 L609.32 371.11 L609.79 371.28 L610.27 371.43 L610.74 371.56 L611.22 371.68 L611.69 371.78 L612.17 371.87 L612.64 371.95 L613.12 372.02 L613.59 372.08 L614.07 372.13 L614.54 372.17 L615.01 372.21 L615.49 372.25 L615.96 372.28 L616.44 372.31 L616.91 372.33 L617.39 372.35 L617.86 372.37 L618.34 372.39 L618.81 372.4 L619.29 372.41 L619.76 372.42 L620.24 372.43 L620.71 372.44 L621.18 372.45 L621.66 372.45 L622.13 372.46 L622.61 372.47 L623.08 372.47 L623.56 372.47 L624.03 372.48 L624.51 372.48 L624.98 372.48 L625.46 372.48 L625.93 372.49 L626.41 372.49 L626.88 372.49 L627.36 372.49 L627.83 372.49 L628.3 372.49 L628.78 372.49 L629.25 372.49 L629.73 372.5 L630.2 372.5 L630.68 372.5 L631.15 372.5 L631.63 372.5 L632.1 372.5 L632.58 372.5 L633.05 372.5 L633.53 372.5 L634 372.5 L634.47 372.5 L634.95 372.5 L635.42 372.5 L635.9 372.5 L636.37 372.5 L636.85 372.5 L637.32 372.5 L637.8 372.5 L638.27 372.5 L638.75 372.5 L639.22 372.5 L639.7 372.5 L640.17 372.5 L640.65 372.5 L641.12 372.5 L641.59 372.5 L642.07 372.5 L642.54 372.5 L643.02 372.5 L643.49 372.5 L643.97 372.5 L644.44 372.5 L644.92 372.5 L645.39 372.5 L645.87 372.5 L646.34 372.5 L646.82 372.5 L647.29 372.5 L647.77 372.5 L648.24 372.5 L648.71 372.5 L649.19 372.5 L649.66 372.5 L650.14 372.5 L650.61 372.5 L651.09 372.5 L651.56 372.5 L652.04 372.5 L652.51 372.5 L652.99 372.5 L653.46 372.5 L653.94 372.5 L654.41 372.5 L654.88 372.5 L655.36 372.5 L655.83 372.5 L656.31 372.5 L656.78 372.5 L657.26 372.5 L657.73 372.5 L658.21 372.5 L658.68 372.5 L659.16 372.5 L659.63 372.5 L660.11 372.5 L660.58 372.5 L661.06 372.5 L661.53 372.5" fill="none" stroke="#0000ff" stroke-width="1.85" stroke-linejoin="round"/>
<rect x="133.72" y="334" width="11" height="18.5" fill="#ed210c"/>
<text x="139.42" y="347.8" font-family="Liberation Sans, sans-serif" font-weight="bold" font-size="12.4" fill="#fff" text-anchor="middle">1</text>
<rect x="181.18" y="334" width="11" height="18.5" fill="#ed210c"/>
<text x="186.88" y="347.8" font-family="Liberation Sans, sans-serif" font-weight="bold" font-size="12.4" fill="#fff" text-anchor="middle">2</text>
<rect x="228.65" y="334" width="11" height="18.5" fill="#ed210c"/>
<text x="234.35" y="347.8" font-family="Liberation Sans, sans-serif" font-weight="bold" font-size="12.4" fill="#fff" text-anchor="middle">3</text>
<rect x="276.11" y="334" width="11" height="18.5" fill="#ed210c"/>
<text x="281.81" y="347.8" font-family="Liberation Sans, sans-serif" font-weight="bold" font-size="12.4" fill="#fff" text-anchor="middle">4</text>
<rect x="323.57" y="334" width="11" height="18.5" fill="#ed210c"/>
<text x="329.27" y="347.8" font-family="Liberation Sans, sans-serif" font-weight="bold" font-size="12.4" fill="#fff" text-anchor="middle">5</text>
<rect x="371.04" y="334" width="11" height="18.5" fill="#ed210c"/>
<text x="376.74" y="347.8" font-family="Liberation Sans, sans-serif" font-weight="bold" font-size="12.4" fill="#fff" text-anchor="middle">6</text>
<rect x="418.5" y="334" width="11" height="18.5" fill="#ed210c"/>
<text x="424.2" y="347.8" font-family="Liberation Sans, sans-serif" font-weight="bold" font-size="12.4" fill="#fff" text-anchor="middle">7</text>
<rect x="465.97" y="334" width="11" height="18.5" fill="#ed210c"/>
<text x="471.67" y="347.8" font-family="Liberation Sans, sans-serif" font-weight="bold" font-size="12.4" fill="#fff" text-anchor="middle">8</text>
<rect x="513.43" y="334" width="11" height="18.5" fill="#ed210c"/>
<text x="519.13" y="347.8" font-family="Liberation Sans, sans-serif" font-weight="bold" font-size="12.4" fill="#fff" text-anchor="middle">9</text>
<rect x="557.4" y="334" width="18" height="18.5" fill="#ed210c"/>
<text x="566.6" y="347.8" font-family="Liberation Sans, sans-serif" font-weight="bold" font-size="12.4" fill="#fff" text-anchor="middle">10</text>
<rect x="604.87" y="334" width="18" height="18.5" fill="#ed210c"/>
<text x="614.07" y="347.8" font-family="Liberation Sans, sans-serif" font-weight="bold" font-size="12.4" fill="#fff" text-anchor="middle">11</text>
<rect x="80.6" y="232" width="593.1" height="147.6" fill="none" stroke="#000" stroke-width="2.3"/>
<g stroke="#000" stroke-width="1.3">
<line x1="91.95" y1="379" x2="91.95" y2="375.3"/>
<line x1="139.42" y1="379" x2="139.42" y2="376.3"/>
<line x1="186.88" y1="379" x2="186.88" y2="375.3"/>
<line x1="234.35" y1="379" x2="234.35" y2="376.3"/>
<line x1="281.81" y1="379" x2="281.81" y2="375.3"/>
<line x1="329.27" y1="379" x2="329.27" y2="376.3"/>
<line x1="376.74" y1="379" x2="376.74" y2="375.3"/>
<line x1="424.2" y1="379" x2="424.2" y2="376.3"/>
<line x1="471.67" y1="379" x2="471.67" y2="375.3"/>
<line x1="519.13" y1="379" x2="519.13" y2="376.3"/>
<line x1="566.6" y1="379" x2="566.6" y2="375.3"/>
<line x1="614.07" y1="379" x2="614.07" y2="376.3"/>
<line x1="661.53" y1="379" x2="661.53" y2="375.3"/>
<line x1="81" y1="372.5" x2="84.6" y2="372.5"/>
<line x1="81" y1="305.5" x2="84.6" y2="305.5"/>
<line x1="81" y1="238.5" x2="84.6" y2="238.5"/>
</g>
<g font-family="Liberation Serif, serif" fill="#000">
<text x="92.25" y="404.4" font-size="25" text-anchor="middle">0</text>
<text x="187.18" y="404.4" font-size="25" text-anchor="middle">1000</text>
<text x="282.11" y="404.4" font-size="25" text-anchor="middle">2000</text>
<text x="377.04" y="404.4" font-size="25" text-anchor="middle">3000</text>
<text x="471.97" y="404.4" font-size="25" text-anchor="middle">4000</text>
<text x="566.9" y="404.4" font-size="25" text-anchor="middle">5000</text>
<text x="661.83" y="404.4" font-size="25" text-anchor="middle">6000</text>
<text x="77.6" y="247.5" font-size="25" text-anchor="end">1</text>
<text x="77.6" y="314.4" font-size="25" text-anchor="end">0.5</text>
<text x="77.6" y="381.0" font-size="25" text-anchor="end">0</text>
<text x="377.1" y="435.8" font-size="25" text-anchor="middle">Site</text>
<text x="0.4" y="44.1" font-size="24.5">a)</text>
<text x="0.4" y="228.8" font-size="24.5">b)</text>
<text x="89.2" y="82.6" font-size="22" font-weight="bold">M</text>
<text x="109.3" y="87.3" font-size="14.5" font-style="italic">i</text>
<text x="102.8" y="158.6" font-size="18" font-style="italic">z</text>
<text x="137.8" y="163.6" font-size="18" font-style="italic">y</text>
<text x="151.8" y="197.4" font-size="18" font-style="italic">x</text>
<g transform="translate(35.5,315.3) rotate(-90)"><text x="0" y="0" font-size="25" font-style="italic">M</text><text x="20" y="7" font-size="18" font-style="italic">x</text></g>
</g>
<g font-family="Liberation Serif, serif" fill="#04d804">
<text x="329.8" y="33.7" font-size="21.5" font-weight="bold">H</text>
<text x="346.2" y="39.9" font-size="20.5">SO</text>
</g>
<g font-family="Liberation Serif, serif" fill="#ed210c" font-style="italic">
<text x="629.4" y="358.7" font-size="20.5">M</text>
<text x="646.2" y="364.6" font-size="14">x</text>
<text x="649.9" y="350.8" font-size="14.5" letter-spacing="0.4"><tspan font-style="normal">(</tspan>n<tspan font-style="normal">)</tspan></text>
</g>
</svg>
</body></html>
